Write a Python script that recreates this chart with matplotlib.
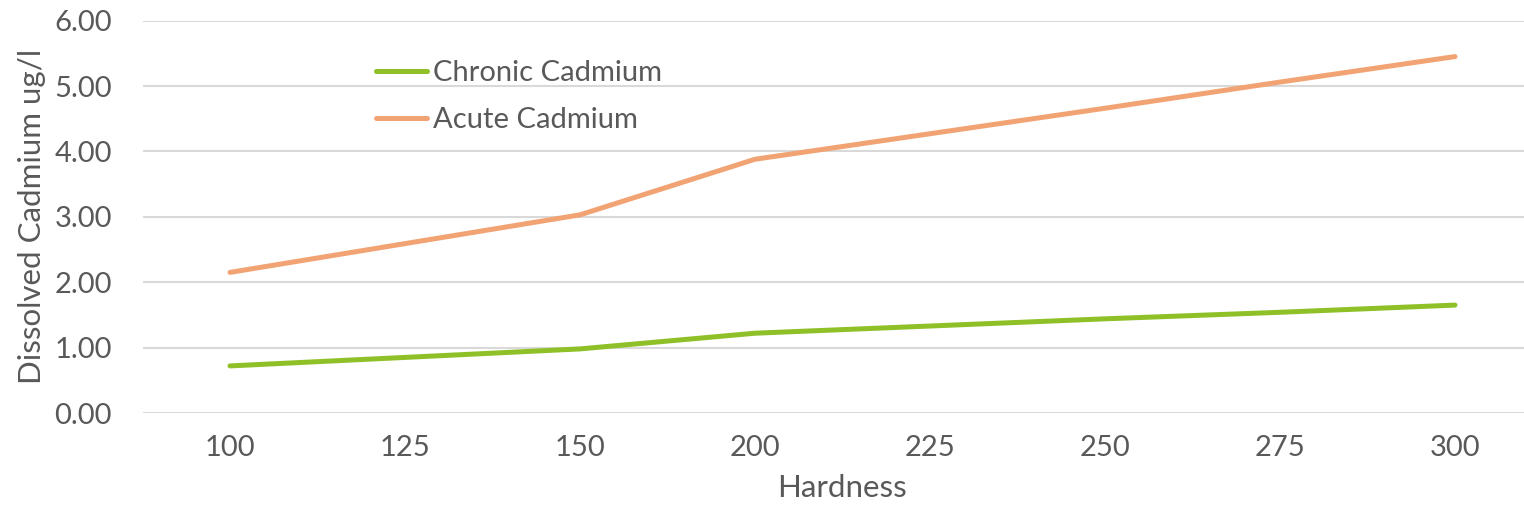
import matplotlib
matplotlib.use("Agg")
import matplotlib.pyplot as plt

# hardness categories (categorical axis, equally spaced)
hardness = ["100", "125", "150", "200", "225", "250", "275", "300"]
chronic = [0.72, 0.85, 0.98, 1.22, 1.33, 1.44, 1.54, 1.65]
acute = [2.15, 2.59, 3.03, 3.88, 4.27, 4.66, 5.06, 5.45]

TEXT = "#595959"
GRID = "#d9d9d9"
FS = 21
FS_TITLE = 22.5

plt.rcParams["font.family"] = ["Lato", "DejaVu Sans"]

fig = plt.figure(figsize=(15.24, 5.11), dpi=100)
ax = fig.add_axes([142.5 / 1524, 98 / 511, 1400 / 1524, 392.4 / 511])

x = range(len(hardness))
ax.plot(x, chronic, color="#8FC027", lw=3.6, solid_capstyle="round", label="Chronic Cadmium")
ax.plot(x, acute, color="#F2A373", lw=3.6, solid_capstyle="round", label="Acute Cadmium")

ax.set_xlim(-0.5, len(hardness) - 0.5)
ax.set_ylim(0, 6)
ax.set_yticks([0, 1, 2, 3, 4, 5, 6])
ax.set_yticklabels([f"{v:.2f}" for v in range(7)])
ax.set_xticks(list(x))
ax.set_xticklabels(hardness)

ax.grid(axis="y", color=GRID, lw=1.5)
ax.set_axisbelow(True)
for s in ax.spines.values():
    s.set_visible(False)
ax.tick_params(length=0, labelsize=FS, colors=TEXT)
ax.tick_params(axis="y", pad=22)
ax.tick_params(axis="x", pad=16)

ax.set_xlabel("Hardness", fontsize=FS_TITLE, color=TEXT, labelpad=9)
ax.set_ylabel("Dissolved Cadmium ug/l", fontsize=FS_TITLE, color=TEXT)
ax.yaxis.set_label_coords(-97 / 1400, 0.5)

leg = ax.legend(loc="upper left", bbox_to_anchor=(207 / 1400, 1 - 13 / 392.4),
                frameon=False, fontsize=FS, handlelength=1.75, handletextpad=0.2,
                labelspacing=0.72, labelcolor=TEXT)

fig.savefig("out.png", dpi=100)
